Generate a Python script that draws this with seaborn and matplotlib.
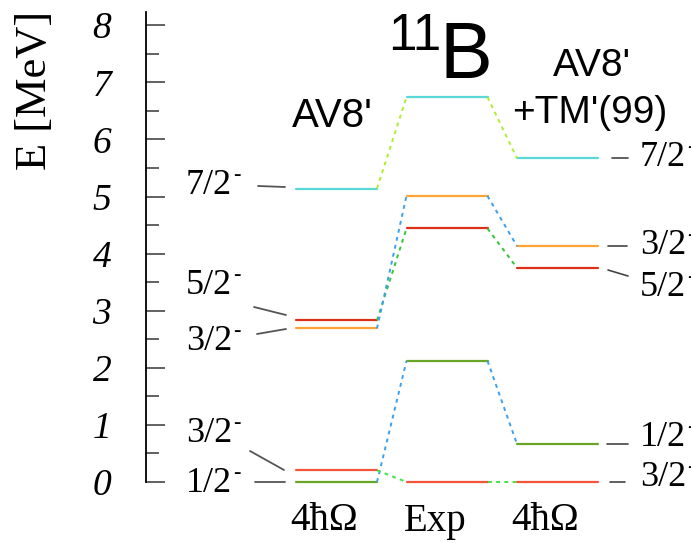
import matplotlib
matplotlib.use("Agg")
import matplotlib.pyplot as plt
import seaborn as sns
import pandas as pd
import numpy as np

# ---------------- data ----------------
columns = ["AV8' 4ħΩ", "Exp", "AV8'+TM'(99) 4ħΩ"]
states = ["7/2-", "5/2-", "3/2- (exc)", "1/2-", "3/2- (gs)"]
av8 = [5.14, 2.83, 2.69, 0.00, 0.205]
expt = [6.74, 4.44, 5.01, 2.12, 0.00]
av8tm = [5.67, 3.75, 4.13, 0.665, 0.00]
col_labels = ["4ħΩ", "Exp", "4ħΩ"]
yticks = [0, 1, 2, 3, 4, 5, 6, 7, 8]

level_colors = {"7/2-": "#58d8d8", "5/2-": "#dd3018", "3/2- (exc)": "#ffa335",
                "1/2-": "#6aa626", "3/2- (gs)": "#f5553a"}
conn_colors = {"7/2-": "#b0ec30", "5/2-": "#33c633", "3/2- (exc)": "#3aa0ef",
               "1/2-": "#3aa0ef", "3/2- (gs)": "#44e044"}

sns.set_style("white")
plt.rcParams["font.family"] = ["Liberation Serif", "DejaVu Serif"]
plt.rcParams["text.color"] = "black"
plt.rcParams["ytick.color"] = "black"
sans = ["Liberation Sans", "DejaVu Sans"]

W, H = 691, 543
fig = plt.figure(figsize=(W / 100, H / 100), dpi=100)
ax = fig.add_axes([146 / W, 61 / H, 545 / W, 470 / H])

PXU = 110.5   # px per column unit
PXE = 57.1    # px per MeV
X0 = 336.5    # px of column 0 centre
Y0 = 482      # px of E=0
def X(px): return (px - X0) / PXU
def Y(py): return (Y0 - py) / PXE

hw = 40.5 / PXU
energies = [av8, expt, av8tm]

# level segments
rows = []
for ci, en in enumerate(energies):
    for s, e in zip(states, en):
        for dx in (-hw, hw):
            rows.append({"x": ci + dx, "E": e, "state": s, "seg": f"{ci}-{s}"})
df = pd.DataFrame(rows)
sns.lineplot(data=df, x="x", y="E", hue="state", units="seg", estimator=None,
             palette=level_colors, linewidth=1.6, legend=False, ax=ax, sort=False)
for ln in ax.lines:
    ln.set_clip_on(False)

# dotted connectors
for ci in range(2):
    for i, s in enumerate(states):
        ax.plot([ci + hw, ci + 1 - hw], [energies[ci][i], energies[ci + 1][i]],
                color=conn_colors[s], lw=1.4, linestyle=(0, (2, 2.2)), clip_on=False)

ax.set_xlim(-(X0 - 146) / PXU, (W - X0) / PXU)
ax.set_ylim(0, 470 / PXE)
ax.set_xticks([])
ax.set_yticks(yticks)
ax.set_yticks(np.arange(0.5, 8, 1.0), minor=True)
ax.set_yticklabels([str(t) for t in yticks], fontsize=27, style="italic",
                   family=["Liberation Serif"], color="black")
ax.tick_params(axis="y", which="major", direction="in", length=14, width=1.3,
               color="#555555", pad=25, left=True)
ax.tick_params(axis="y", which="minor", direction="in", length=9, width=1.3,
               color="#555555", left=True)
for side in ("top", "right", "bottom"):
    ax.spines[side].set_visible(False)
ax.spines["left"].set_color("black")
ax.spines["left"].set_linewidth(1.3)
ax.set_xlabel("")
ax.set_ylabel("")

fig.text(35 / W, 1 - 90 / H, "E [MeV]", rotation=90, ha="center", va="center",
         fontsize=32, color="black")

def ftext(px, py, s, **kw):
    kw.setdefault("color", "black")
    return fig.text(px / W, 1 - py / H, s, **kw)

# column labels
for ci, lab in enumerate(col_labels):
    ftext(X0 + PXU * ci - 12, 521, lab, ha="center", va="center", fontsize=28)

# titles (sans)
ftext(441, 36, "11", ha="right", va="center", fontsize=37, family=sans)
ftext(439, 57, "B", ha="left", va="center", fontsize=57, family=sans)
ftext(332, 116, "AV8'", ha="center", va="center", fontsize=29, family=sans)
ftext(592, 66, "AV8'", ha="center", va="center", fontsize=28, family=sans)
ftext(512, 113, "+TM'(99)", ha="left", va="center", fontsize=28, family=sans)

lab_fs = 26
renderer = fig.canvas.get_renderer()
def slabel(px, py, s, ha):
    t = ftext(px, py, s, ha=ha, va="center", fontsize=lab_fs)
    bb = t.get_window_extent(renderer=renderer)
    # superscript minus just right of the text, near the top of the digits
    fig.text((bb.x1 + 1.0) / W, (H - py + 10) / H, "-", ha="left", va="center",
             fontsize=16, color="black")

# left labels (AV8')
left_lab = {"7/2-": ("7/2", 186), "5/2-": ("5/2", 285), "3/2- (exc)": ("3/2", 341),
            "3/2- (gs)": ("3/2", 434), "1/2-": ("1/2", 484)}
for i, s in enumerate(states):
    t, py = left_lab[s]
    slabel(186, py, t, "left")
for x1, y1, x2, y2 in [(258, 186, 285, 187), (254, 307, 286, 315),
                       (257, 334, 286, 329), (250, 451, 284, 470),
                       (255, 482, 285, 482)]:
    ax.plot([X(x1), X(x2)], [Y(y1), Y(y2)], color="#555555", lw=1.3, clip_on=False)

# right labels (AV8'+TM')
right_lab = {"7/2-": ("7/2", 158), "3/2- (exc)": ("3/2", 245), "5/2-": ("5/2", 287),
             "1/2-": ("1/2", 438), "3/2- (gs)": ("3/2", 478)}
for i, s in enumerate(states):
    t, py = right_lab[s]
    slabel(640, py, t, "left")
for x1, y1, x2, y2 in [(612, 158, 628, 158), (608, 246, 627, 246),
                       (608, 270, 628, 276), (607, 444, 628, 444),
                       (610, 482, 625, 482)]:
    ax.plot([X(x1), X(x2)], [Y(y1), Y(y2)], color="#444444", lw=1.2, clip_on=False)

fig.savefig("out.png", dpi=100)
